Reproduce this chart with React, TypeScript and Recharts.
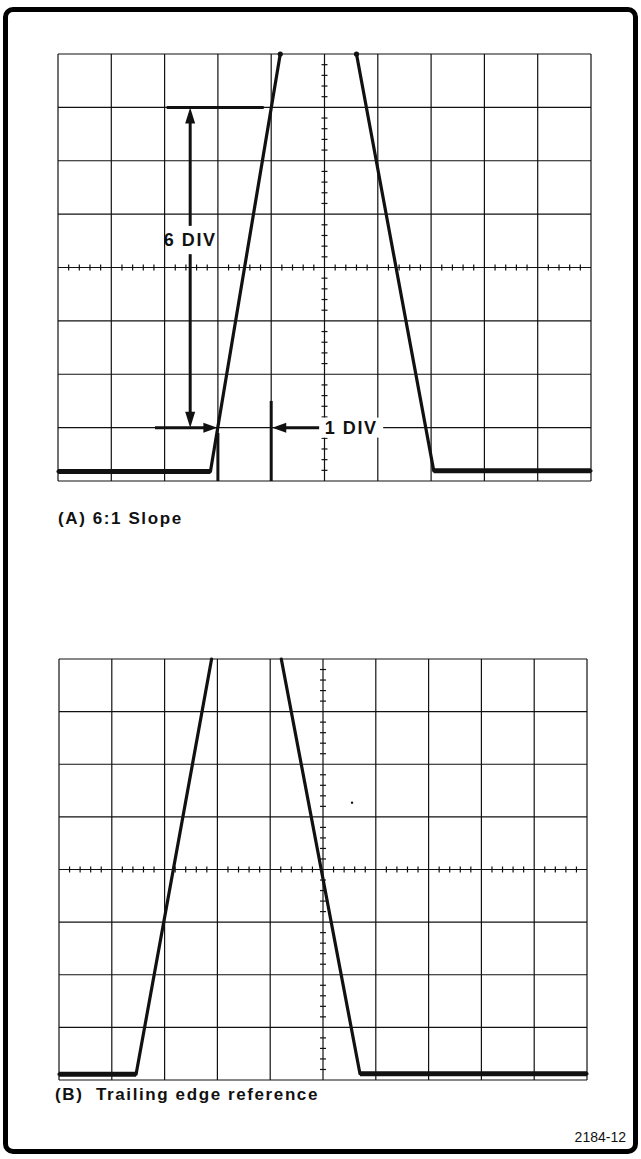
import React from "react";
import {
  ComposedChart,
  Line,
  Scatter,
  XAxis,
  YAxis,
  CartesianGrid,
  ReferenceLine,
  ReferenceDot,
} from "recharts";

// graticule: 10 x 8 divisions
const xTicks = [0, 1, 2, 3, 4, 5, 6, 7, 8, 9, 10];
const yTicks = [0, 1, 2, 3, 4, 5, 6, 7, 8];

// (A) 6:1 slope trace, in divisions (leading part, then trailing part)
const aLeadX = [0, 2.86, 4.17];
const aLeadY = [0.18, 0.18, 8];
const aTrailX = [5.6, 7.05, 10];
const aTrailY = [8, 0.19, 0.19];

// (B) trailing edge reference trace
const bLeadX = [0, 1.46, 2.89];
const bLeadY = [0.11, 0.11, 8];
const bTrailX = [4.21, 5.7, 10];
const bTrailY = [8, 0.12, 0.12];

const FONT = "'Liberation Sans', Arial, Helvetica, sans-serif";
const INK = "#111";
const M = 14;

type Pt = { x: number; y: number };
const toPts = (xs: number[], ys: number[]): Pt[] => xs.map((x, i) => ({ x, y: ys[i] }));

// minor ticks on the centre lines, every 0.2 div
const minor = (max: number) =>
  Array.from({ length: max * 5 + 1 }, (_, i) => i / 5).filter(
    (v) => Math.abs(v - Math.round(v)) > 1e-6
  );
const minorOnVertical = minor(8).map((y) => ({ x: 5, y }));
const minorOnHorizontal = minor(10).map((x) => ({ x, y: 4 }));

const hTick = (p: any) => (
  <line x1={p.cx - 3} x2={p.cx + 3} y1={p.cy} y2={p.cy} stroke={INK} strokeWidth={1.2} />
);
const vTick = (p: any) => (
  <line x1={p.cx} x2={p.cx} y1={p.cy - 3} y2={p.cy + 3} stroke={INK} strokeWidth={1.2} />
);

const upArrow = (p: any) => (
  <polygon points={`${p.cx},${p.cy} ${p.cx - 5},${p.cy + 16} ${p.cx + 5},${p.cy + 16}`} fill={INK} />
);
const downArrow = (p: any) => (
  <polygon points={`${p.cx},${p.cy} ${p.cx - 5},${p.cy - 16} ${p.cx + 5},${p.cy - 16}`} fill={INK} />
);
const rightArrow = (p: any) => (
  <polygon points={`${p.cx},${p.cy} ${p.cx - 14},${p.cy - 5} ${p.cx - 14},${p.cy + 5}`} fill={INK} />
);
const leftArrow = (p: any) => (
  <polygon points={`${p.cx},${p.cy} ${p.cx + 14},${p.cy - 5} ${p.cx + 14},${p.cy + 5}`} fill={INK} />
);
const endDot = (p: any) => <circle cx={p.cx} cy={p.cy} r={2.6} fill={INK} />;

const label = (text: string, w: number) => (p: any) => (
  <g>
    {w > 0 && <rect x={p.cx - w / 2} y={p.cy - 10} width={w} height={20} fill="#fff" />}
    <text
      x={p.cx}
      y={p.cy}
      textAnchor="middle"
      dominantBaseline="central"
      fontFamily={FONT}
      fontWeight={700}
      fontSize={18}
      letterSpacing={1.6}
      fill={INK}
    >
      {text}
    </text>
  </g>
);

function Graticule({
  width,
  height,
  lead,
  trail,
  children,
}: {
  width: number;
  height: number;
  lead: Pt[];
  trail: Pt[];
  children?: React.ReactNode;
}) {
  const edge = {
    dataKey: "y",
    type: "linear" as const,
    stroke: INK,
    strokeWidth: 3.2,
    strokeLinecap: "round" as const,
    strokeLinejoin: "round" as const,
    dot: false,
    isAnimationActive: false,
  };
  return (
    <ComposedChart width={width + 2 * M} height={height + 2 * M} margin={{ top: M, right: M, bottom: M, left: M }}>
      <XAxis type="number" dataKey="x" domain={[0, 10]} ticks={xTicks} interval={0} hide />
      <YAxis type="number" dataKey="y" domain={[0, 8]} ticks={yTicks} interval={0} hide />
      <CartesianGrid stroke={INK} strokeWidth={1.2} />
      <Scatter data={minorOnVertical} shape={hTick} isAnimationActive={false} />
      <Scatter data={minorOnHorizontal} shape={vTick} isAnimationActive={false} />
      {children}
      <Line {...edge} data={lead} />
      <Line {...edge} data={trail} />
      <Line {...edge} data={lead.slice(0, 2)} strokeWidth={5} strokeLinecap="butt" />
      <Line {...edge} data={trail.slice(1)} strokeWidth={5} strokeLinecap="butt" />
    </ComposedChart>
  );
}

const caption: React.CSSProperties = {
  position: "absolute",
  fontFamily: FONT,
  fontWeight: 700,
  fontSize: 17,
  letterSpacing: 1.6,
  color: INK,
  lineHeight: "20px",
  whiteSpace: "nowrap",
};

export default function App() {
  const aLead = toPts(aLeadX, aLeadY);
  const aTrail = toPts(aTrailX, aTrailY);
  const bLead = toPts(bLeadX, bLeadY);
  const bTrail = toPts(bTrailX, bTrailY);
  const thick = { stroke: INK, strokeWidth: 3 };

  return (
    <div style={{ position: "absolute", left: 0, top: 0, width: 641, height: 1159, background: "#fff" }}>
      <div
        style={{
          position: "absolute",
          left: 3,
          top: 7,
          width: 635,
          height: 1147,
          border: "5px solid #000",
          borderRadius: 10,
          boxSizing: "border-box",
        }}
      />

      <div style={{ position: "absolute", left: 58 - M, top: 54 - M }}>
        <Graticule width={533} height={427} lead={aLead} trail={aTrail}>
          {/* 6 DIV measurement */}
          <ReferenceLine segment={[{ x: 2.04, y: 7 }, { x: 3.86, y: 7 }]} {...thick} />
          <ReferenceLine segment={[{ x: 2.48, y: 6.8 }, { x: 2.48, y: 4.78 }]} {...thick} />
          <ReferenceLine segment={[{ x: 2.48, y: 4.25 }, { x: 2.48, y: 1.2 }]} {...thick} />
          <ReferenceDot x={2.48} y={7} shape={upArrow} />
          <ReferenceDot x={2.48} y={1} shape={downArrow} />
          <ReferenceDot x={2.48} y={4.51} shape={label("6 DIV", 0)} />
          {/* 1 DIV measurement */}
          <ReferenceLine segment={[{ x: 1.82, y: 1 }, { x: 2.8, y: 1 }]} {...thick} />
          <ReferenceDot x={2.99} y={1} shape={rightArrow} />
          <ReferenceLine segment={[{ x: 3, y: 0.9 }, { x: 3, y: 0 }]} {...thick} />
          <ReferenceLine segment={[{ x: 4, y: 1.5 }, { x: 4, y: 0 }]} {...thick} />
          <ReferenceLine segment={[{ x: 4.2, y: 1 }, { x: 4.92, y: 1 }]} {...thick} />
          <ReferenceDot x={4.02} y={1} shape={leftArrow} />
          <ReferenceDot x={5.5} y={1} shape={label("1 DIV", 64)} />
          <ReferenceDot x={4.17} y={8} shape={endDot} />
          <ReferenceDot x={5.6} y={8} shape={endDot} />
        </Graticule>
      </div>

      <div style={{ ...caption, left: 58, top: 509 }}>(A) 6:1 Slope</div>

      <div style={{ position: "absolute", left: 59 - M, top: 659 - M }}>
        <Graticule width={528} height={421} lead={bLead} trail={bTrail}>
          <ReferenceDot x={5.55} y={5.27} r={1.2} fill={INK} stroke="none" />
        </Graticule>
      </div>

      <div style={{ ...caption, left: 55, top: 1085 }}>(B)&nbsp;&nbsp;Trailing edge reference</div>
      <div
        style={{
          position: "absolute",
          right: 641 - 626,
          top: 1128,
          fontFamily: FONT,
          fontSize: 14,
          color: INK,
          lineHeight: "18px",
        }}
      >
        2184-12
      </div>
    </div>
  );
}
